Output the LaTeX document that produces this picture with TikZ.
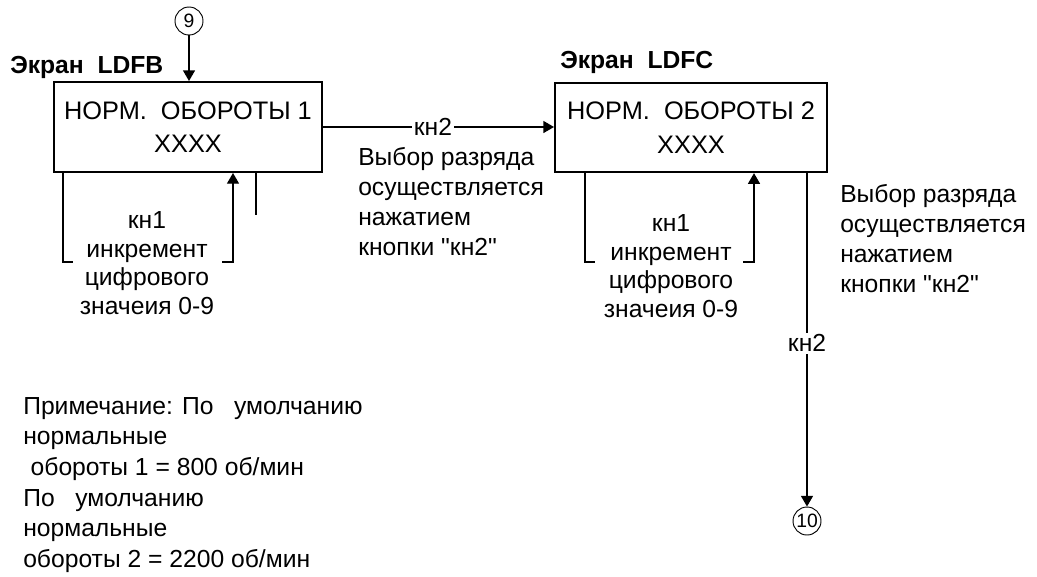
\documentclass[tikz,border=0pt]{standalone}
\usepackage{fontspec}
\setmainfont{Liberation Sans}
\usetikzlibrary{arrows.meta}
\newcommand{\dq}{\XeTeXglyph\XeTeXcharglyph"22\relax}
\begin{document}
\begin{tikzpicture}[x=0.75pt,y=-0.75pt,
  every node/.style={font=\fontsize{18.5}{22.5}\selectfont, inner sep=0pt},
  box/.style={draw, line width=1.5pt, align=center, font=\fontsize{19}{25}\selectfont},
  conn/.style={line width=1pt},
  arr/.style={conn, -{Triangle[length=8pt,width=9pt]}},
  circ/.style={draw, circle, line width=0.7pt, font=\fontsize{14.5}{17}\selectfont},
  txt/.style={align=left},
  ctxt/.style={align=center, font=\fontsize{18.5}{21.5}\selectfont},
  lbl/.style={fill=white, inner sep=1.5pt},
  title/.style={font=\fontsize{18.5}{20}\selectfont\bfseries}
]
\useasboundingbox (0,0) rectangle (1037,576);

% boxes
\node[box, minimum width=201pt, minimum height=67.5pt] (box1) at (188,127) {НОРМ.\ \ ОБОРОТЫ\ 1\\XXXX};
\node[box, minimum width=204pt, minimum height=67pt] (box2) at (691,127.5) {НОРМ.\ \ ОБОРОТЫ\ 2\\XXXX};

% titles
\node[title, anchor=west] (t1) at (10,67) {Экран\ \ LDFB};
\node[title, anchor=west] (t2) at (560,62) {Экран\ \ LDFC};

% circles
\node[circ, minimum size=21pt] (c9) at (189,21) {9};
\node[circ, minimum size=21pt] (c10) at (807,521) {10};

% connectors
\draw[arr] (c9) -- (c9 |- box1.north);
\draw[arr] (box1.east) -- node[lbl, pos=0.476] (k2a) {кн2} (box1.east -| box2.west);
\draw[arr] (c10 |- box2.south) -- node[lbl, pos=0.51] (k2b) {кн2} (c10.north);

% loop 1
\coordinate (l1a) at (63,262);
\coordinate (l1b) at (73,262);
\coordinate (l1c) at (222,262);
\coordinate (l1d) at (233,262);
\coordinate (l1e) at (256,215);
\draw[conn] (l1a |- box1.south) -- (l1a) -- (l1b);
\draw[arr] (l1c) -- (l1d) -- (l1d |- box1.south);
\draw[conn] (l1e |- box1.south) -- (l1e);
\node[ctxt] (lt1) at (147,263) {кн1\\инкремент\\цифрового\\значеия 0-9};

% loop 2
\coordinate (l2a) at (585,262);
\coordinate (l2b) at (595,262);
\coordinate (l2c) at (743,262);
\coordinate (l2d) at (754,262);
\draw[conn] (l2a |- box2.south) -- (l2a) -- (l2b);
\draw[arr] (l2c) -- (l2d) -- (l2d |- box2.south);
\node[ctxt] (lt2) at (671,266) {кн1\\инкремент\\цифрового\\значеия 0-9};

% text blocks
\node[txt, anchor=west] (v1) at (358,202) {Выбор разряда\\осуществляется\\нажатием\\кнопки \dq кн2\dq};
\node[txt, anchor=west] (v2) at (840,239) {Выбор разряда\\осуществляется\\нажатием\\кнопки \dq кн2\dq};
\node[txt, anchor=west, font=\fontsize{18.5}{23}\selectfont] (note) at (23,485) {Примечание: По\ \ \ умолчанию\\нормальные\\\hspace{0.3em}обороты 1 = 800 об/мин\\По\ \ \ умолчанию\\нормальные\\обороты 2 = 2200 об/мин};
\end{tikzpicture}
\end{document}
